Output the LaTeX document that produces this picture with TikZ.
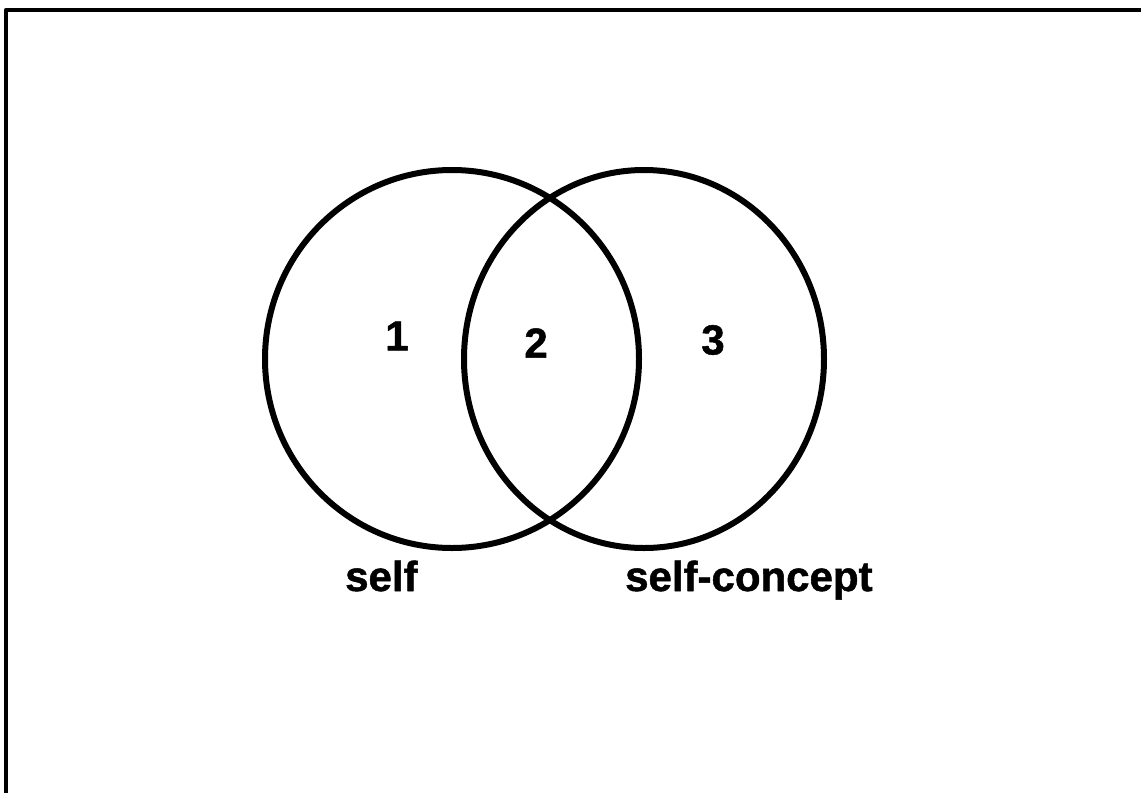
\documentclass[tikz,border=0pt]{standalone}
\usepackage{fontspec}
\newfontfamily\labelfont{Liberation Sans}[BoldFeatures={FakeBold=1.2}]
\tikzset{ring/.style={line width=6pt},
	lbl/.style={inner sep=0pt, font=\labelfont\bfseries\fontsize{42}{46}\selectfont}}
\begin{document}
\begin{tikzpicture}[x=1pt, y=-1pt, line join=round, line cap=round]
			\useasboundingbox (0,0) rectangle (1141,793);
			\draw[line width=4.5pt, line cap=butt] (6,793)--(6,10)--(1141,10);
			\coordinate (cSelf) at (452,359);
			\coordinate (cConcept) at (644,359);
			\draw[ring] (cSelf) ellipse (187pt and 189pt);
			\draw[ring] (cConcept) ellipse (180pt and 189pt);
			\node[lbl] (one) at (397,336) {1};
			\node[lbl] (two) at (536,343) {2};
			\node[lbl] (three) at (713,340) {3};
			\node[lbl, anchor=base west] (self) at (345,591) {self};
			\node[lbl, anchor=base west] (concept) at (625,591) {self-concept};
	\end{tikzpicture}
\end{document}
